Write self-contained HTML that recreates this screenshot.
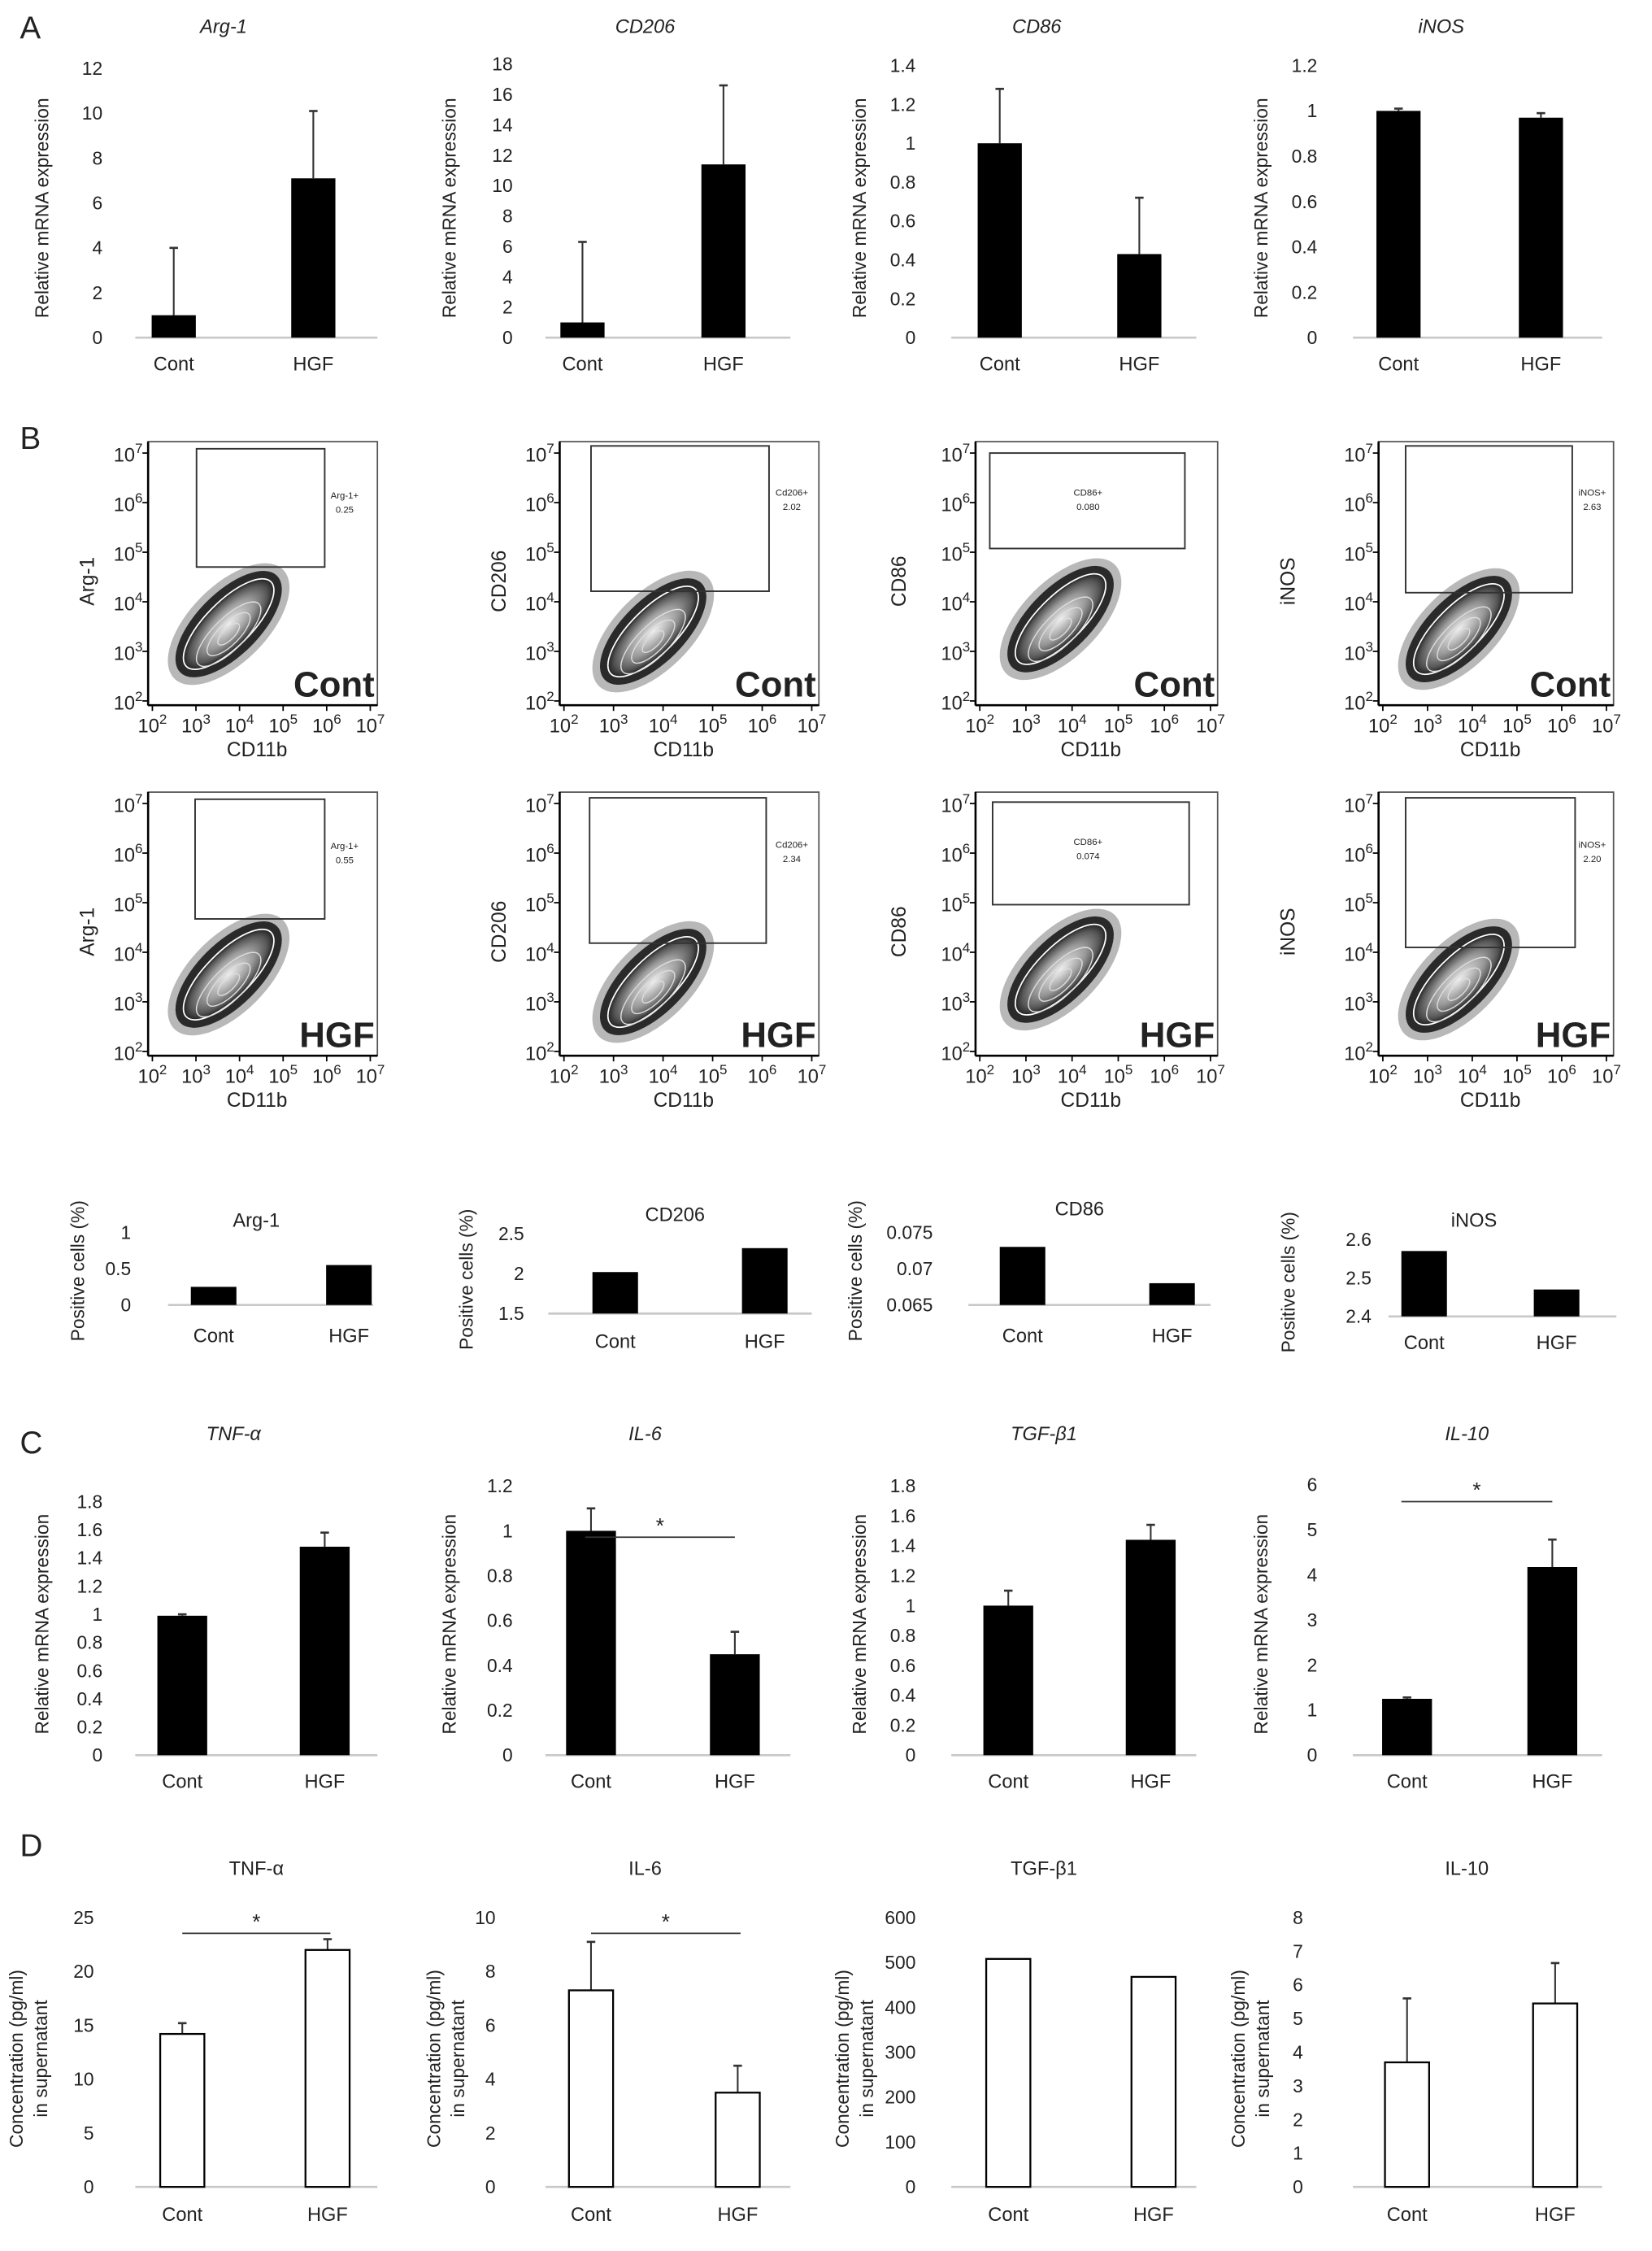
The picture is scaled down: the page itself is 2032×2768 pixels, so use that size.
<!DOCTYPE html>
<html><head><meta charset="utf-8"><title>Macrophage markers figure</title>
<style>
html,body{margin:0;padding:0;background:#fff;}
svg{display:block;}
text{font-family:"Liberation Sans",Arial,sans-serif;fill:#222;}
</style></head>
<body>
<svg id="fig" xmlns="http://www.w3.org/2000/svg" width="2032" height="2768" viewBox="0 0 1160 1580" preserveAspectRatio="none">
<defs>
<radialGradient id="blobGrad" cx="50%" cy="50%" r="50%">
<stop offset="0" stop-color="#eee"/><stop offset="0.55" stop-color="#999"/><stop offset="0.85" stop-color="#555"/><stop offset="1" stop-color="#222"/>
</radialGradient>
</defs>
<text x="14" y="27" font-size="22">A</text>
<text x="14" y="315" font-size="22">B</text>
<text x="14" y="1020" font-size="22">C</text>
<text x="14" y="1303" font-size="22">D</text>
</svg>
<script>
// ---------- data ----------
const cats = ["Cont", "HGF"];
// Panel A (mRNA)
const aTitles = ["Arg-1", "CD206", "CD86", "iNOS"];
const aMeans = [[1, 7.1], [1, 11.4], [1.0, 0.43], [1.0, 0.97]];
const aErrTops = [[4, 10.1], [6.3, 16.6], [1.28, 0.72], [1.01, 0.99]];
const aTicks = [[0,2,4,6,8,10,12], [0,2,4,6,8,10,12,14,16,18], [0,0.2,0.4,0.6,0.8,1,1.2,1.4], [0,0.2,0.4,0.6,0.8,1,1.2]];
// Panel B flow gates
const flowMarkers = ["Arg-1", "CD206", "CD86", "iNOS"];
const gateNames = ["Arg-1+", "Cd206+", "CD86+", "iNOS+"];
const gateContValues = ["0.25", "2.02", "0.080", "2.63"];
const gateHgfValues = ["0.55", "2.34", "0.074", "2.20"];
// Panel B positive cells
const bMeans = [[0.25, 0.55], [2.02, 2.32], [0.073, 0.068], [2.57, 2.47]];
const bTicks = [[0, 0.5, 1], [1.5, 2, 2.5], [0.065, 0.07, 0.075], [2.4, 2.5, 2.6]];
const bTickLabels = [["0","0.5","1"], ["1.5","2","2.5"], ["0.065","0.07","0.075"], ["2.4","2.5","2.6"]];
// Panel C (mRNA cytokines)
const cTitles = ["TNF-\u03b1", "IL-6", "TGF-\u03b21", "IL-10"];
const cMeans = [[0.99, 1.48], [1.0, 0.45], [1.0, 1.44], [1.25, 4.17]];
const cErrTops = [[1.0, 1.58], [1.1, 0.55], [1.1, 1.54], [1.28, 4.78]];
const cTicks = [[0,0.2,0.4,0.6,0.8,1,1.2,1.4,1.6,1.8], [0,0.2,0.4,0.6,0.8,1,1.2], [0,0.2,0.4,0.6,0.8,1,1.2,1.4,1.6,1.8], [0,1,2,3,4,5,6]];
const cSig = [false, true, false, true];
// Panel D (supernatant)
const dMeans = [[14.2, 22], [7.3, 3.5], [508, 468], [3.7, 5.45]];
const dErrTops = [[15.2, 23], [9.1, 4.5], [508, 468], [5.6, 6.65]];
const dTicks = [[0,5,10,15,20,25], [0,2,4,6,8,10], [0,100,200,300,400,500,600], [0,1,2,3,4,5,6,7,8]];
const dSig = [true, true, false, false];

// ---------- helpers ----------
const svg = document.getElementById('fig');
const NS = 'http://www.w3.org/2000/svg';
function mk(tag, attrs, parent) {
  const e = document.createElementNS(NS, tag);
  for (const k in attrs) e.setAttribute(k, attrs[k]);
  (parent || svg).appendChild(e);
  return e;
}
function txt(parent, x, y, s, size, extra) {
  const t = mk('text', Object.assign({x: x, y: y, 'font-size': size, 'text-anchor': 'middle'}, extra || {}), parent);
  t.textContent = s;
  return t;
}
function fmt(v) { return String(v); }

const colLayout = [
  {x0: 95, x1: 265, c: [122, 220], tickX: 72, yl: 30},
  {x0: 383, x1: 555, c: [409, 508], tickX: 360, yl: 316},
  {x0: 668, x1: 840, c: [702, 800], tickX: 643, yl: 604},
  {x0: 950, x1: 1125, c: [982, 1082], tickX: 925, yl: 886}
];

function barChart(o) {
  const g = mk('g', {});
  
  
  const min = o.ticks[0], max = o.ticks[o.ticks.length - 1];
  const yS = v => o.yBase - (v - min) / (max - min) * (o.yBase - o.yTop);
  if (o.title) {
    const t = txt(g, o.titleX, o.titleY, o.title, 13.5, o.italic ? {'font-style': 'italic'} : {});
    
    
  }
  o.ticks.forEach((v, i) => {
    const t = txt(g, o.tickX, yS(v) + 4.5, o.tickLabels ? o.tickLabels[i] : fmt(v), 13, {'text-anchor': 'end'});
    
    
  });
  const bl = mk('line', {x1: o.x0, x2: o.x1, y1: o.yBase, y2: o.yBase, stroke: '#c8c8c8', 'stroke-width': 1.5}, g);
  
  
  o.means.forEach((v, i) => {
    const cx = o.centers[i];
    if (o.errs) {
      const e = o.errs[i];
      if (e > v) {
        const el = mk('line', {x1: cx, x2: cx, y1: yS(v), y2: yS(e), stroke: '#333', 'stroke-width': 1.2}, g);
        
        
        const cap = mk('line', {x1: cx - 3, x2: cx + 3, y1: yS(e), y2: yS(e), stroke: '#333', 'stroke-width': 1.5}, g);
        
        
      }
    }
    const r = mk('rect', {x: cx - o.bw / 2, y: yS(v), width: o.bw, height: o.yBase - yS(v),
      fill: o.hollow ? '#fff' : '#000', stroke: '#000', 'stroke-width': o.hollow ? 1.3 : 0}, g);
    
    
    const c = txt(g, cx, o.catY, cats[i], 13.5);
    
    
  });
  if (o.sig) {
    const sl = mk('line', {x1: o.sig[0], x2: o.sig[1], y1: o.sig[2], y2: o.sig[2], stroke: '#333', 'stroke-width': 1}, g);
    
    
    const st = txt(g, (o.sig[0] + o.sig[1]) / 2, o.sig[2] - 3, '*', 15);
    
    
  }
  o.ylabels.forEach((s, k) => {
    const x = o.ylX + k * 17, y = o.ylY;
    const t = txt(g, x, y, s, 13, {transform: 'rotate(-90 ' + x + ' ' + y + ')'});
    
    
  });
}

// ---------- Panel A ----------
const aTop = [48, 45, 46, 46];
const aTitleX = [157, 453, 728, 1012];
for (let i = 0; i < 4; i++) {
  const L = colLayout[i];
  barChart({name: 'mrna-chart-' + aTitles[i].toLowerCase(), title: aTitles[i], titleX: aTitleX[i], titleY: 23, italic: true,
    ticks: aTicks[i], yBase: 237, yTop: aTop[i], x0: L.x0, x1: L.x1, centers: L.c, bw: 31,
    means: aMeans[i], errs: aErrTops[i], tickX: L.tickX, catY: 260,
    ylabels: ['Relative mRNA expression'], ylX: L.yl + 4, ylY: 146});
}

// ---------- Panel C ----------
const cTop = [1054, 1043, 1043, 1042];
const cTitleX = [164, 453, 733, 1030];
for (let i = 0; i < 4; i++) {
  const L = colLayout[i];
  const sig = cSig[i] ? [L.c[0] + 2, L.c[1] + 8, i === 1 ? 1079 : 1054] : null;
  barChart({name: 'mrna-cytokine-chart-' + i, title: cTitles[i], titleX: cTitleX[i], titleY: 1011, italic: true,
    ticks: cTicks[i], yBase: 1232, yTop: cTop[i], x0: L.x0, x1: L.x1, centers: [L.c[0] + 6, L.c[1] + 8], bw: 35,
    means: cMeans[i], errs: cErrTops[i], tickX: L.tickX, catY: 1255, sig: sig,
    ylabels: ['Relative mRNA expression'], ylX: L.yl + 4, ylY: 1140});
}

// ---------- Panel D ----------
const dTitleX = [180, 453, 733, 1030];
const dTickX = [66, 348, 643, 915];
const dYl = [12, 305, 592, 870];
for (let i = 0; i < 4; i++) {
  const L = colLayout[i];
  const sig = dSig[i] ? [L.c[0] + 6, L.c[1] + 12, 1357] : null;
  barChart({name: 'supernatant-chart-' + i, title: cTitles[i], titleX: dTitleX[i], titleY: 1316, italic: false,
    ticks: dTicks[i], yBase: 1535, yTop: 1346, x0: L.x0, x1: L.x1, centers: [L.c[0] + 6, L.c[1] + 10], bw: 31, hollow: true,
    means: dMeans[i], errs: dErrTops[i], tickX: dTickX[i], catY: 1559, sig: sig,
    ylabels: ['Concentration (pg/ml)', 'in supernatant'], ylX: dYl[i] + 4, ylY: 1445});
}

// ---------- Panel B positive cells ----------
const pcLayout = [
  {x0: 118, x1: 262, c: [150, 245], base: 916, top: 865, tickX: 92, yl: 55, tx: 180, ty: 861, catY: 942},
  {x0: 385, x1: 570, c: [432, 537], base: 922, top: 866, tickX: 368, yl: 328, tx: 474, ty: 857, catY: 946},
  {x0: 680, x1: 850, c: [718, 823], base: 916, top: 865, tickX: 655, yl: 601, tx: 758, ty: 853, catY: 942},
  {x0: 975, x1: 1135, c: [1000, 1093], base: 924, top: 870, tickX: 963, yl: 905, tx: 1035, ty: 861, catY: 947}
];
for (let i = 0; i < 4; i++) {
  const P = pcLayout[i];
  barChart({name: 'positive-cells-chart-' + flowMarkers[i].toLowerCase(), title: flowMarkers[i], titleX: P.tx, titleY: P.ty,
    ticks: bTicks[i], tickLabels: bTickLabels[i], yBase: P.base, yTop: P.top, x0: P.x0, x1: P.x1, centers: P.c, bw: 32,
    means: bMeans[i], errs: null, tickX: P.tickX, catY: P.catY,
    ylabels: ['Positive cells (%)'], ylX: P.yl + 4, ylY: P.base - 24});
}

// ---------- Panel B flow plots ----------
const flowLayout = [
  {ax: 104, right: 265, yl: 66, tag: 'right', gate: [[138, 228, 315, 398], [137, 228, 561, 645]], gtx: 242, blob: [3.75, 3.55]},
  {ax: 393, right: 575, yl: 355, tag: 'right', gate: [[415, 540, 313, 415], [414, 538, 560, 662]], gtx: 556, blob: [3.8, 3.4]},
  {ax: 685, right: 855, yl: 636, tag: 'in', gate: [[695, 832, 318, 385], [697, 835, 563, 635]], gtx: 764, blob: [3.75, 3.65]},
  {ax: 968, right: 1133, yl: 909, tag: 'right', gate: [[987, 1104, 313, 416], [987, 1106, 560, 665]], gtx: 1118, blob: [3.7, 3.45]}
];
const rowTop = [310, 556];
const rowLabels = ['Cont', 'HGF'];
function sup(parent, x, y, e, size) {
  const t = mk('text', {x: x, y: y, 'font-size': size, 'text-anchor': 'middle'}, parent);
  t.appendChild(document.createTextNode('10'));
  const s = document.createElementNS(NS, 'tspan');
  s.setAttribute('dy', -6); s.setAttribute('font-size', size * 0.72);
  s.textContent = e;
  t.appendChild(s);
  return t;
}
for (let r = 0; r < 2; r++) {
  for (let i = 0; i < 4; i++) {
    const F = flowLayout[i];
    const g = mk('g', {});
    
    
    const top = rowTop[r], bottom = top + 185;
    const dx = (F.right - F.ax - 8) / 5;
    const xD = k => F.ax + 3 + (k - 2) * dx;
    const yD = k => bottom - 3 - (k - 2) * 34.8;
    const cx = xD(F.blob[0]), cy = yD(F.blob[1]);
    const rot = 'rotate(-45 ' + cx + ' ' + cy + ')';
    const haze = mk('ellipse', {cx: cx, cy: cy, rx: 54, ry: 27, fill: '#333', opacity: 0.35, transform: rot}, g);
    
    
    const halo = mk('ellipse', {cx: cx, cy: cy, rx: 48, ry: 22, fill: '#111', opacity: 0.85, transform: rot}, g);
    
    
    const core = mk('ellipse', {cx: cx, cy: cy, rx: 42, ry: 16, fill: 'url(#blobGrad)', stroke: '#fff', 'stroke-width': 1, transform: rot}, g);
    
    
    [[30, 11], [20, 7.5], [10, 4]].forEach(function (s) {
      const c = mk('ellipse', {cx: cx - 5, cy: cy + 5, rx: s[0], ry: s[1], fill: 'none', stroke: '#ddd', 'stroke-width': 0.8, transform: rot}, g);
      
      
    });
    const fr = mk('rect', {x: F.ax, y: top, width: F.right - F.ax, height: bottom - top, fill: 'none', stroke: '#555', 'stroke-width': 1}, g);
    
    
    mk('line', {x1: F.ax, x2: F.ax, y1: top, y2: bottom, stroke: '#000', 'stroke-width': 1.5}, g);
    mk('line', {x1: F.ax, x2: F.right, y1: bottom, y2: bottom, stroke: '#000', 'stroke-width': 1.5}, g);
    for (let k = 2; k <= 7; k++) {
      mk('line', {x1: xD(k), x2: xD(k), y1: bottom, y2: bottom + 4, stroke: '#000', 'stroke-width': 1}, g);
      mk('line', {x1: F.ax - 4, x2: F.ax, y1: yD(k), y2: yD(k), stroke: '#000', 'stroke-width': 1}, g);
      const xt = sup(g, xD(k), bottom + 19, String(k), 13.5);
      
      
      const yt = sup(g, F.ax - 14, yD(k) + 6, String(k), 13.5);
      
      
    }
    const xl = txt(g, (F.ax + F.right) / 2 - 4, bottom + 36, 'CD11b', 14);
    
    
    const ylY = top + 98;
    const yl = txt(g, F.yl, ylY, flowMarkers[i], 14, {transform: 'rotate(-90 ' + F.yl + ' ' + ylY + ')'});
    
    
    const G = F.gate[r];
    const gr = mk('rect', {x: G[0], y: G[2], width: G[1] - G[0], height: G[3] - G[2], fill: 'none', stroke: '#333', 'stroke-width': 1.1}, g);
    
    
    const gy = F.tag === 'in' ? G[2] + 30 : G[2] + 35;
    const g1 = txt(g, F.gtx, gy, gateNames[i], 6.5);
    
    
    const g2 = txt(g, F.gtx, gy + 10, (r === 0 ? gateContValues : gateHgfValues)[i], 6.5);
    
    
    const cl = txt(g, F.right - 2, bottom - 6, rowLabels[r], 25, {'text-anchor': 'end', 'font-weight': 'bold', 'font-family': '"DejaVu Sans","Liberation Sans",sans-serif'});
    
    
  }
}
</script>
</body></html>
